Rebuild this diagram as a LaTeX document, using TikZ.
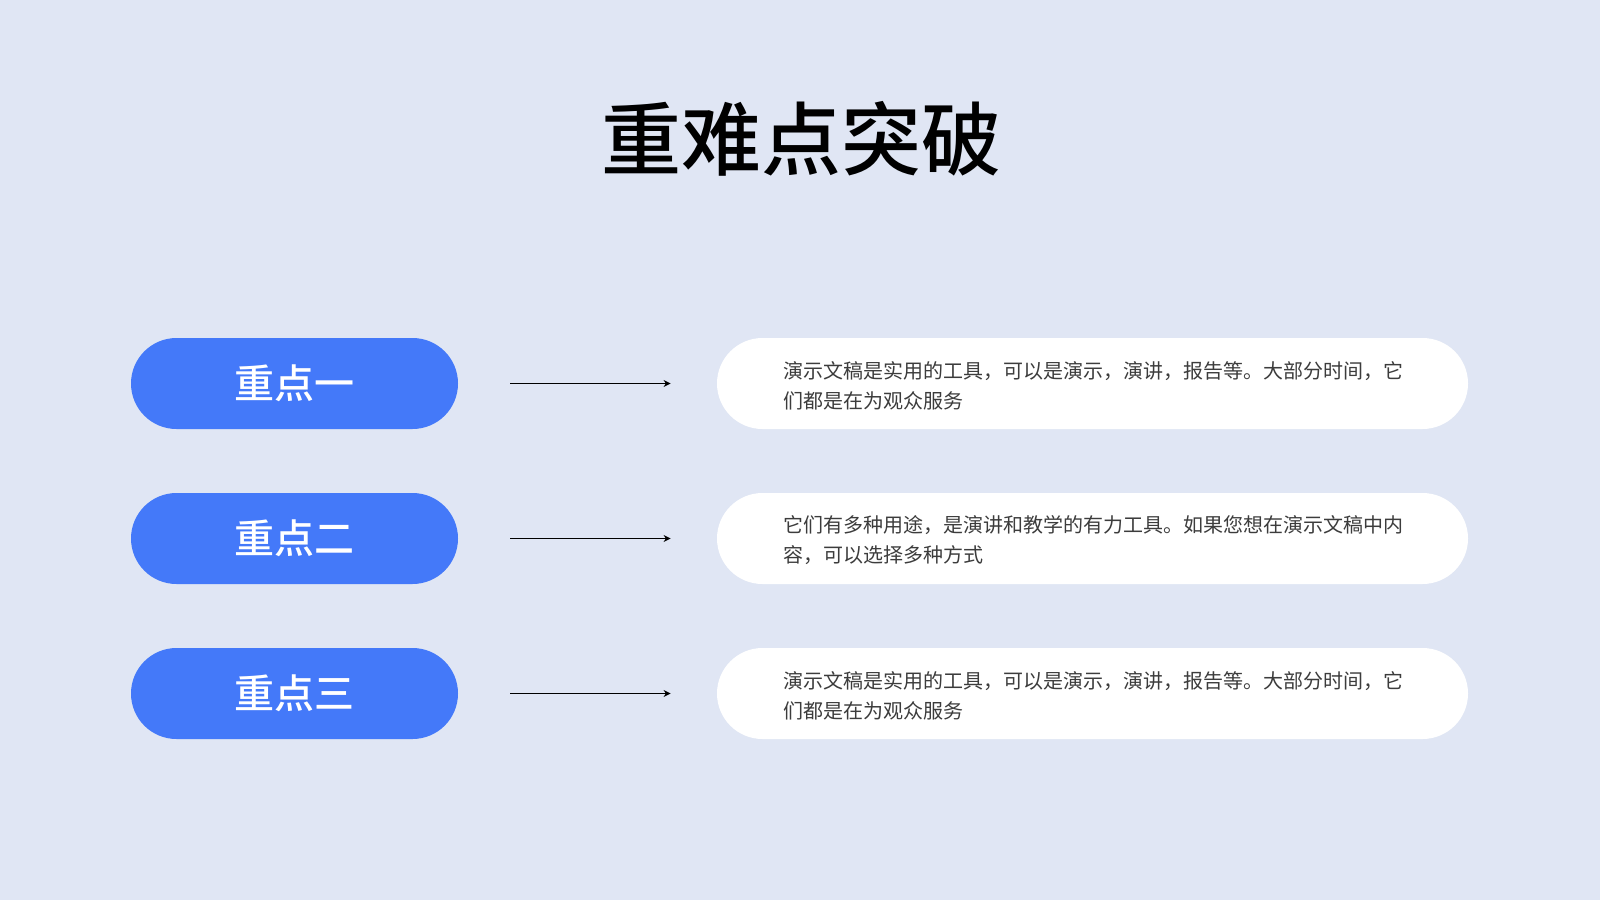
\documentclass[tikz,border=0pt]{standalone}
\usepackage{fontspec}
\setmainfont{Noto Sans CJK SC}
\newfontfamily\medfont{Noto Sans CJK SC Medium}
\usetikzlibrary{arrows.meta}
\definecolor{bgc}{HTML}{E0E6F4}
\definecolor{pillblue}{HTML}{4479F9}
\definecolor{bodytext}{HTML}{3C3C3C}
\begin{document}
\begin{tikzpicture}[x=0.5pt,y=-0.5pt,
  keypill/.style={fill=pillblue, draw=none, minimum width=163.5pt, minimum height=45.5pt,
    rounded corners=22.75pt, inner sep=0pt, text=white,
    font=\fontsize{20pt}{24pt}\medfont},
  descpill/.style={fill=white, draw=none, minimum width=375.5pt, minimum height=45.5pt,
    rounded corners=22.75pt, inner sep=0pt},
  desctext/.style={anchor=west, align=left, inner sep=0pt, text=bodytext,
    font=\fontsize{10pt}{15pt}\selectfont},
  link/.style={draw=black, line width=0.75pt, -{Stealth[length=3.5pt,width=3.5pt]},
    shorten <=26pt, shorten >=23pt}
]
\fill[bgc] (0,0) rectangle (1600,900);
\useasboundingbox (0,0) rectangle (1600,900);

\node[font=\fontsize{40pt}{48pt}\medfont, inner sep=0pt] (title) at (801,139) {重难点突破};

\node[keypill] (k1) at (294.5,383.5) {重点一};
\node[keypill] (k2) at (294.5,538.5) {重点二};
\node[keypill] (k3) at (294.5,693.5) {重点三};

\node[descpill] (d1) at (1092.5,383.5) {};
\node[descpill] (d2) at (1092.5,538.5) {};
\node[descpill] (d3) at (1092.5,693.5) {};

\node[desctext] (t1) at ([xshift=33pt,yshift=-1pt]d1.west) {演示文稿是实用的工具，可以是演示，演讲，报告等。大部分时间，它\\们都是在为观众服务};
\node[desctext] (t2) at ([xshift=33pt,yshift=-1pt]d2.west) {它们有多种用途，是演讲和教学的有力工具。如果您想在演示文稿中内\\容，可以选择多种方式};
\node[desctext] (t3) at ([xshift=33pt,yshift=-1pt]d3.west) {演示文稿是实用的工具，可以是演示，演讲，报告等。大部分时间，它\\们都是在为观众服务};

\draw[link] (k1) -- (d1);
\draw[link] (k2) -- (d2);
\draw[link] (k3) -- (d3);
\end{tikzpicture}
\end{document}
